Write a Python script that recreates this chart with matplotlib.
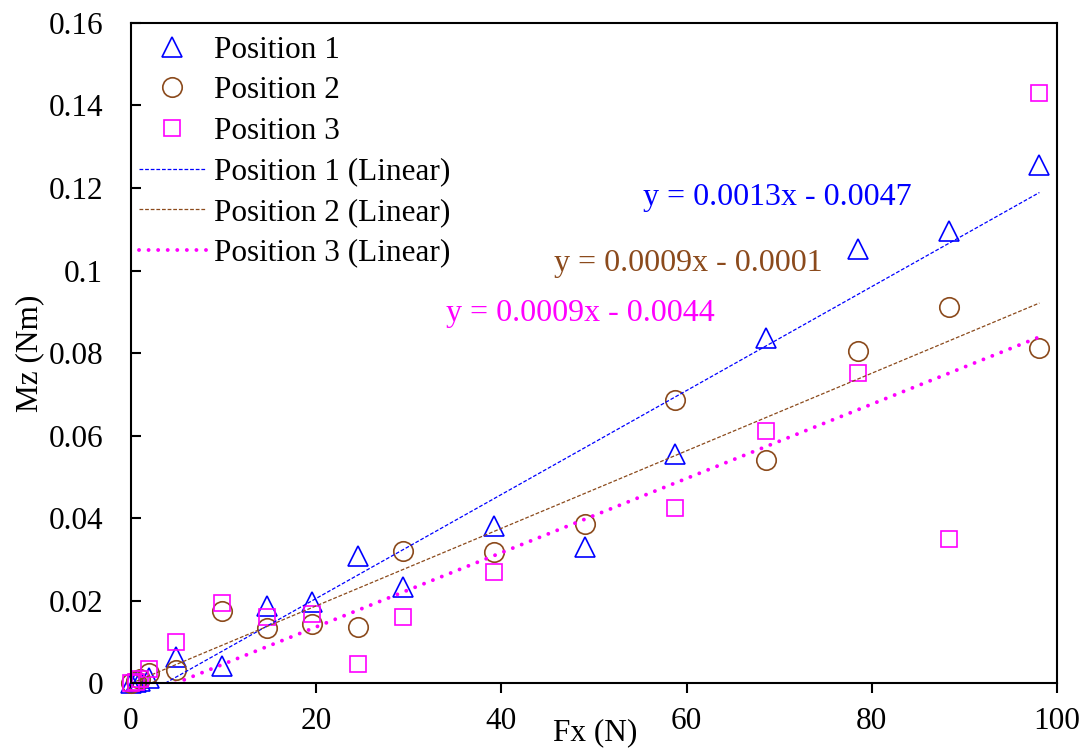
import matplotlib.pyplot as plt
import numpy as np

plt.rcParams["font.family"] = ["Liberation Serif", "DejaVu Serif"]
plt.rcParams["font.size"] = 22.5

# applied force (N) and measured moment (Nm) at three positions
fx = [0, 0.49, 0.98, 1.96, 4.9, 9.81, 14.7, 19.6, 24.5, 29.4,
      39.2, 49.0, 58.8, 68.6, 78.5, 88.3, 98.1]
mz_pos1 = [0, 0.0002, 0.0005, 0.0012, 0.0063, 0.0041, 0.0187, 0.0196, 0.0308,
           0.0233, 0.0380, 0.0329, 0.0555, 0.0836, 0.1052, 0.1096, 0.1256]
mz_pos2 = [0, 0.0005, 0.0010, 0.0024, 0.0032, 0.0175, 0.0133, 0.0143, 0.0136,
           0.0320, 0.0318, 0.0385, 0.0686, 0.0540, 0.0805, 0.0911, 0.0812]
mz_pos3 = [0, 0.0002, 0.0010, 0.0034, 0.0099, 0.0194, 0.0160, 0.0167, 0.0046,
           0.0160, 0.0269, np.nan, 0.0424, 0.0611, 0.0752, 0.0350, 0.1430]

# linear trend lines y = slope * x + intercept
fit_slope = [0.00126, 0.00094, 0.00090]
fit_intercept = [-0.0047, -0.0001, -0.0044]

names = ["Position 1", "Position 2", "Position 3"]
colors = ["#0000FF", "#8B4A1C", "#FF00FF"]
markers = ["^", "o", "s"]
msizes = [14, 14, 11]
line_styles = [dict(lw=0.9, ls=(0, (3, 1.5))),
               dict(lw=0.9, ls=(0, (3, 1.5))),
               dict(lw=2.8, ls=(0, (0.01, 2.45)), dash_capstyle="round")]
eq_pos = [(777, 198), (688, 263), (580, 313)]

fig = plt.figure(figsize=(10.86, 7.49), dpi=100)
ax = fig.add_axes([0.1206, 0.0881, 0.8527, 0.8812])

x = np.array(fx)
series = [np.array(mz_pos1), np.array(mz_pos2), np.array(mz_pos3)]

for name, y, c, m, ms in zip(names, series, colors, markers, msizes):
    ax.plot(x, y, ls="none", marker=m, ms=ms, mfc="none", mec=c, mew=1.2,
            label=name, clip_on=False)

for i, (name, y, c, st) in enumerate(zip(names, series, colors, line_styles)):
    slope, icpt = fit_slope[i], fit_intercept[i]
    ok = ~np.isnan(y)
    xs = np.array([x[ok].min(), x[ok].max()])
    ax.plot(xs, slope * xs + icpt, color=c, label=name + " (Linear)", **st)
    sign = "-" if icpt < 0 else "+"
    eq = f"y = {slope:.4f}x {sign} {abs(icpt):.4f}"
    px, py = eq_pos[i]
    fig.text(px / 1086, 1 - py / 749, eq, color=c, ha="center", va="center",
             fontsize=23)

ax.set_xlim(0, 100)
ax.set_ylim(0, 0.16)
ax.set_xticks(np.arange(0, 101, 20))
ax.set_yticks(np.arange(0, 0.161, 0.02))
ax.set_yticklabels(["0", "0.02", "0.04", "0.06", "0.08", "0.1", "0.12",
                    "0.14", "0.16"])
ax.tick_params(axis="x", direction="out", length=7, width=1.5, pad=10)
ax.tick_params(axis="y", direction="in", length=7, width=1.5, pad=20)
for sp in ax.spines.values():
    sp.set_linewidth(1.5)

fig.text(595 / 1086, 16 / 749, "Fx (N)", ha="center", va="center")
fig.text(30 / 1086, 1 - 353 / 749, "Mz (Nm)", ha="center", va="center",
         rotation=90)

ax.legend(loc="upper left", bbox_to_anchor=(0.0, 1 - 5 / 660), frameon=False,
          numpoints=1, handlelength=2.15, handletextpad=0.25,
          labelspacing=0.37, borderaxespad=0.05, borderpad=0.2)

fig.savefig("out.png", dpi=100)
